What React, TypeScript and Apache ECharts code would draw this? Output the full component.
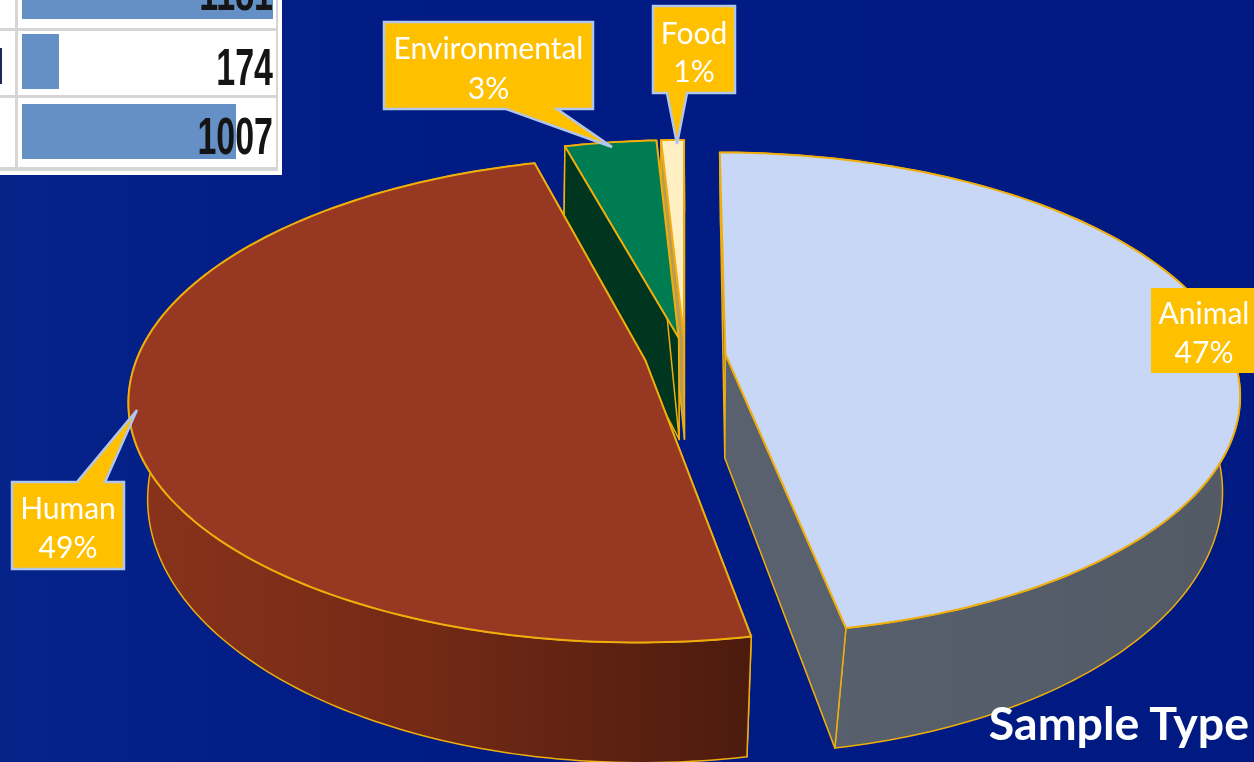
import React, { useEffect, useRef } from "react";
import * as echarts from "echarts";

// ---- data ----
const categories = ["Animal", "Human", "Environmental", "Food"];
const shares = [47, 48.75, 3.4, 0.85];
const tableValues = [1181, 174, 1007];
const chartTitle = "Sample Type";

// ---- styling / layout ----
const W = 1254;
const H = 762;
const FONT = "Lato, 'Noto Sans', sans-serif";
const topFill = ["#C7D7F5", "#973822", "#007C52", "#FFEFC2"];
const cutFill = ["#59616F", "#7A2D18", "#00351F", "#B99B55"];
const wallStops = [
  [[0, "#6A7482"], [0.25, "#575F6C"], [1, "#535A66"]],
  [[0, "#8A331C"], [0.5, "#722915"], [1, "#4C1B0E"]],
  [[0, "#00452C"], [1, "#00351F"]],
  [[0, "#C9AB60"], [1, "#B99B55"]],
];
const edgeColor = "#EFAE0B";
const drawOrder = [3, 2, 1, 0];
const EXPLODE = 0.08;
const topView = { cx: 685, cy: 356, rx: 507.5, ry: 235, k: 0.162 };
const baseView = { cx: 685.5, cy: 460, rx: 494, ry: 261, k: 0.12 };

const project = (v: typeof topView, px: number, py: number): [number, number] => {
  const w = 1 + v.k * py;
  return [v.cx + (v.rx * px) / w, v.cy - (v.ry * py) / w];
};

const total = shares.reduce((a, b) => a + b, 0);
const startOf = (i: number) =>
  (shares.slice(0, i).reduce((a, b) => a + b, 0) / total) * Math.PI * 2;

function renderSlice(_: any, api: any) {
  const i = api.value(0) as number;
  const a0 = startOf(i);
  const a1 = a0 + (api.value(1) / total) * Math.PI * 2;
  const mid = (a0 + a1) / 2;
  const ox = EXPLODE * Math.sin(mid);
  const oy = EXPLODE * Math.cos(mid);
  const n = Math.max(3, Math.ceil((a1 - a0) / 0.02));
  const arc: [number, number][] = [];
  for (let s = 0; s <= n; s++) {
    const t = a0 + ((a1 - a0) * s) / n;
    arc.push([ox + Math.sin(t), oy + Math.cos(t)]);
  }
  const topArc = arc.map((p) => project(topView, p[0], p[1]));
  const baseArc = arc.map((p) => project(baseView, p[0], p[1]));
  const apexT = project(topView, ox, oy);
  const apexB = project(baseView, ox, oy);
  const poly = (points: number[][], fill: any, lw: number) => ({
    type: "polygon",
    shape: { points },
    style: { fill, stroke: edgeColor, lineWidth: lw, lineJoin: "round" },
  });
  const wallFill = new echarts.graphic.LinearGradient(
    0, 0, 1, 0,
    wallStops[i].map(([offset, color]) => ({ offset: offset as number, color: color as string }))
  );
  const wall = poly([...topArc, ...[...baseArc].reverse()], wallFill, 1.5);
  const cuts = [
    poly([apexT, topArc[0], baseArc[0], apexB], cutFill[i], 1.5),
    poly([apexT, topArc[n], baseArc[n], apexB], cutFill[i], 1.5),
  ];
  // a slice whose middle points away from the viewer shows its cut faces over its wall
  const sides = Math.cos(mid) > 0 ? [wall, ...cuts] : [...cuts, wall];
  return {
    type: "group",
    children: [...sides, poly([apexT, ...topArc], topFill[i], 2)],
  };
}

function renderTableBar(_: any, api: any) {
  const [x0, yc] = api.coord([0, api.value(1)]);
  const [x1] = api.coord([api.value(0), api.value(1)]);
  const h = 55;
  return {
    type: "rect",
    shape: { x: x0, y: yc - h / 2, width: x1 - x0, height: h },
    style: { fill: "#6590C6" },
  };
}

const calloutGeom: Record<string, any> = {
  Environmental: { box: [384, 22, 593, 109], wedge: [506, 557, 612, 147], lines: [47, 87] },
  Food: { box: [653, 6, 735, 93], wedge: [667, 687, 677, 144], lines: [32, 70] },
  Human: { box: [12, 482, 124, 569], wedgeTop: [77, 105, 137, 410], lines: [507, 546] },
  Animal: { box: [1151, 288, 1256, 373], lines: [312, 351] },
};

function callouts() {
  const els: any[] = [];
  categories.forEach((name, i) => {
    const g = calloutGeom[name];
    const [x0, y0, x1, y1] = g.box;
    let pts: number[][];
    if (g.wedge) {
      const [a, b, tx, ty] = g.wedge;
      pts = [[x0, y0], [x1, y0], [x1, y1], [b, y1], [tx, ty], [a, y1], [x0, y1]];
    } else if (g.wedgeTop) {
      const [a, b, tx, ty] = g.wedgeTop;
      pts = [[x0, y0], [a, y0], [tx, ty], [b, y0], [x1, y0], [x1, y1], [x0, y1]];
    } else {
      pts = [[x0, y0], [x1, y0], [x1, y1], [x0, y1]];
    }
    els.push({
      type: "polygon",
      z: 100,
      shape: { points: pts },
      style: {
        fill: "#FFC000",
        stroke: name === "Animal" ? "#FFC000" : "#B0C6EC",
        lineWidth: name === "Animal" ? 0 : 2.5,
      },
    });
    const cx = (x0 + Math.min(x1, 1254) + (name === "Animal" ? 3 : 0)) / 2;
    [name, `${Math.round((shares[i] / total) * 100)}%`].forEach((t, j) => {
      els.push({
        type: "text",
        z: 101,
        x: cx,
        y: g.lines[j],
        style: {
          text: t,
          fill: "#FFFFFF",
          font: `400 30px ${FONT}`,
          textAlign: "center",
          textVerticalAlign: "middle",
        },
      });
    });
  });
  return els;
}

function tableBack() {
  const line = "#D6D6D6";
  const rect = (x: number, y: number, width: number, height: number, fill: string) => ({
    type: "rect",
    z: -5,
    shape: { x, y, width, height },
    style: { fill },
  });
  return [
    rect(0, 0, 282, 175, "#FFFFFF"),
    rect(15, 0, 3, 169, line),
    rect(276, 0, 2, 171, line),
    rect(0, 28, 278, 3, line),
    rect(0, 95, 278, 3, line),
    rect(0, 167, 278, 4, line),
    rect(0, 48, 2, 36, "#1C2A60"),
  ];
}

const rowTextY = [-7.5, 67.5, 136.5];

export default function App() {
  const ref = useRef<HTMLDivElement>(null);
  useEffect(() => {
    const chart = echarts.init(ref.current!, undefined, { renderer: "svg" });
    chart.setOption({
      animation: false,
      grid: { left: 22, top: 0, width: 251, height: 175 },
      xAxis: { type: "value", min: 0, max: Math.max(...tableValues), show: false },
      yAxis: { type: "value", inverse: true, show: false, min: 0.1214, max: 2.6214 },
      graphic: {
        elements: [
          {
            type: "rect",
            z: -10,
            shape: { x: 0, y: 0, width: W, height: H },
            style: {
              fill: new echarts.graphic.LinearGradient(0, 0, 1, 0, [
                { offset: 0, color: "#06238A" },
                { offset: 0.35, color: "#001B84" },
                { offset: 1, color: "#001A82" },
              ]),
            },
          },
          ...tableBack(),
          ...tableValues.map((v, i) => ({
            type: "text",
            z: 50,
            x: 273,
            y: rowTextY[i],
            scaleY: 1.5,
            style: {
              text: String(v),
              fill: "#141414",
              font: "700 34px 'Liberation Sans Narrow', sans-serif",
              textAlign: "right",
              textVerticalAlign: "middle",
            },
          })),
          ...callouts(),
          {
            type: "text",
            z: 101,
            x: 1249,
            y: 722,
            style: {
              text: chartTitle,
              fill: "#FFFFFF",
              font: `700 46.5px ${FONT}`,
              textAlign: "right",
              textVerticalAlign: "middle",
            },
          },
        ],
      },
      series: [
        {
          type: "custom",
          coordinateSystem: "cartesian2d",
          renderItem: renderTableBar,
          data: tableValues.map((v, i) => [v, i]),
          clip: false,
          silent: true,
        },
        {
          type: "custom",
          coordinateSystem: "none",
          renderItem: renderSlice,
          data: drawOrder.map((i) => [i, shares[i]]),
          silent: true,
        },
      ],
    });
    return () => chart.dispose();
  }, []);
  return (
    <div
      ref={ref}
      style={{ position: "fixed", left: 0, top: 0, width: W, height: H }}
    />
  );
}
